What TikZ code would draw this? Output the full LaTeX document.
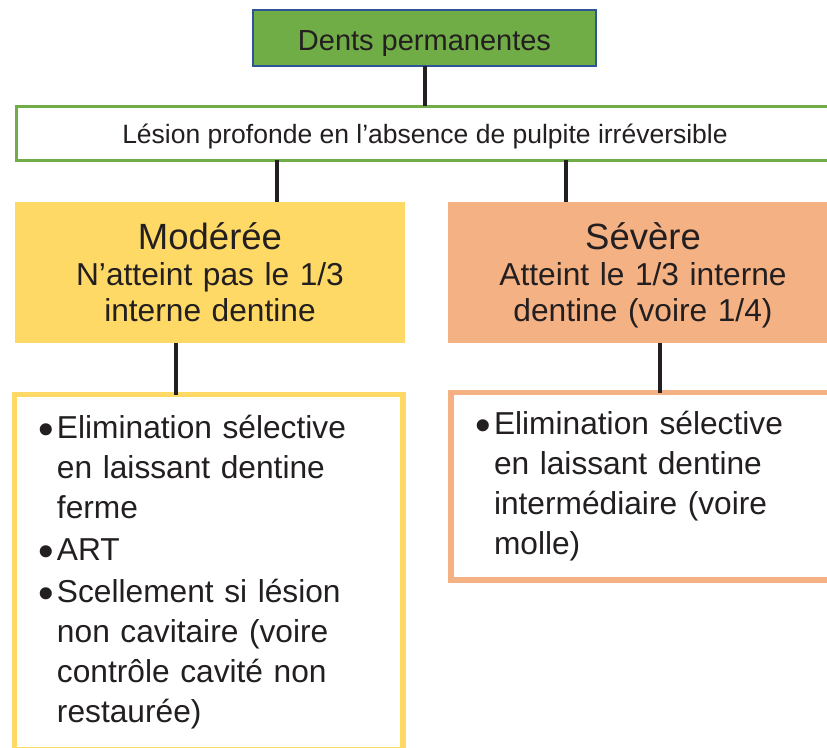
\documentclass[tikz,border=0pt]{standalone}
\usepackage{fontspec}
\usepackage{graphicx}
\setmainfont{Liberation Sans}
\definecolor{dentgreen}{HTML}{70AD47}
\definecolor{dentblue}{HTML}{2F5597}
\definecolor{modyellow}{HTML}{FFD966}
\definecolor{sevorange}{HTML}{F4B183}
\definecolor{inkgrey}{HTML}{231F20}
\newcommand{\puce}{\makebox[17pt][l]{\hspace*{-1.5pt}\raisebox{-6pt}{\scalebox{1.4}{\textbullet}}}}
\newcommand{\retrait}{\hspace*{17pt}}

\begin{document}
\begin{tikzpicture}[x=1pt, y=-1pt]
	\useasboundingbox (0,0) rectangle (827,747);
	\clip (0,0) rectangle (827,747);
	\tikzstyle{every node} = [outer sep=0pt, inner sep=0pt, text=inkgrey, anchor=north west]
	\tikzstyle{niveau} = [rectangle, align=center, font=\fontsize{31.7}{36}\selectfont]
	\tikzstyle{liste} = [rectangle, draw, line width=5.5pt, fill=white, align=left, font=\fontsize{31.7}{40}\selectfont]
	\tikzstyle{lien} = [draw, line width=4pt, inkgrey]
	\node[draw=dentblue, line width=2pt, fill=dentgreen, minimum width=343, minimum height=56, text height=24pt, text depth=0pt, font=\fontsize{29}{34}\selectfont] (dents) at (253,10) {Dents permanentes};
	\node[draw=dentgreen, line width=3pt, fill=white, minimum width=818, minimum height=54, text height=20.6pt, text depth=0pt, font=\fontsize{26.5}{30}\selectfont] (lesion) at (16,106) {Lésion profonde en l’absence de pulpite irréversible};
	\node[niveau, fill=modyellow, text width=390, minimum height=141.5] (moderee) at (15,201.5) {{\fontsize{36.5}{36}\selectfont Modérée}\\N’atteint pas le 1/3\\interne dentine};
	\node[niveau, fill=sevorange, text width=390, minimum height=141.5] (severe) at (448,201.5) {{\fontsize{36.5}{36}\selectfont Sévère}\\Atteint le 1/3 interne\\\raisebox{0pt}[\height][0pt]{dentine (voire 1/4)}};
	\node[liste, draw=modyellow, text width=337.5, minimum width=388.5, minimum height=355.5] (modliste) at (14.5,394.5) {\puce Elimination sélective\\\retrait en laissant dentine\\\retrait ferme\\[2pt]\puce ART\\[2pt]\puce Scellement si lésion\\\retrait non cavitaire (voire\\\retrait contrôle cavité non\\\retrait restaurée)};
	\node[liste, draw=sevorange, text width=348, minimum width=400, minimum height=187.5] (sevliste) at (451,392.5) {\puce Elimination sélective\\\retrait en laissant dentine\\\retrait intermédiaire (voire\\\retrait molle)};
	\draw[lien] (dents.south) -- (dents.south |- lesion.north);
	\draw[lien] ([xshift=67pt]moderee.north) -- ([xshift=67pt]moderee.north |- lesion.south);
	\draw[lien] ([xshift=-77pt]severe.north) -- ([xshift=-77pt]severe.north |- lesion.south);
	\draw[lien] ([xshift=-34pt]moderee.south) -- ([xshift=-34pt]moderee.south |- modliste.north);
	\draw[lien] ([xshift=17pt]severe.south) -- ([xshift=17pt]severe.south |- sevliste.north);
\end{tikzpicture}
\end{document}
